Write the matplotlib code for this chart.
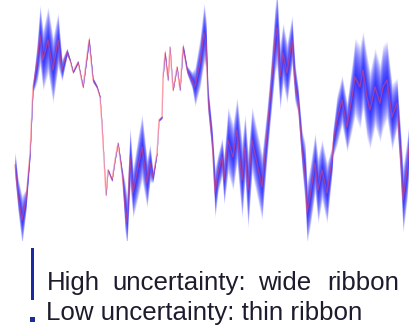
import matplotlib
matplotlib.use("Agg")
import matplotlib.pyplot as plt
from matplotlib.patches import Rectangle
import numpy as np

# time positions
t = [15, 18, 22, 26, 30, 33, 37, 40, 43, 48, 53, 58, 62, 67, 70, 73, 78, 83, 89, 93, 97, 100,
     102, 104, 106, 108, 112, 115, 118, 122, 125, 127, 130, 133, 138, 142, 147, 150, 153, 157,
     159, 162, 163, 165, 168, 170, 173, 177, 180, 183, 187, 192, 195, 200, 204, 206, 208, 212,
     215, 218, 222, 224, 228, 233, 237, 242, 245, 248, 252, 257, 262, 267, 270, 275, 277, 280,
     283, 287, 292, 295, 298, 302, 305, 307, 310, 315, 318, 322, 327, 332, 333, 337, 342, 347,
     352, 355, 360, 363, 367, 370, 375, 380, 383, 387, 392, 397, 400, 403, 407, 409]
# signal level (pixel depth from top of plot area)
level_px = [165, 195, 220, 200, 153, 87, 63, 35, 60, 40, 70, 40, 70, 52, 60, 72, 62, 87, 40, 80, 87, 97,
            125, 160, 195, 170, 180, 160, 143, 173, 207, 222, 157, 193, 167, 147, 183, 163, 177, 153,
            120, 117, 77, 53, 80, 47, 90, 67, 90, 47, 70, 80, 87, 63, 33, 43, 100, 140,
            193, 173, 157, 180, 140, 157, 130, 180, 147, 190, 140, 163, 187, 133, 100, 40, 28, 77,
            53, 73, 40, 83, 100, 150, 173, 213, 197, 163, 190, 170, 193, 160, 143, 120, 100, 127,
            97, 77, 87, 70, 97, 110, 87, 103, 87, 80, 117, 103, 147, 200, 170, 147]
signal = [240 - v for v in level_px]
# uncertainty (std dev)
sigma = [5, 6, 9, 4, 2, 2, 7, 11, 11, 12, 12, 10, 4, 1.5, 0.6, 0.6, 0.6, 0.6, 1.5, 1, 0.6, 0.6,
         0.6, 0.5, 0.6, 0.6, 0.6, 0.6, 0.5, 2, 9, 9, 11, 9, 11, 12, 9, 7, 2, 0.6,
         0.5, 0.6, 0.6, 1.5, 0.6, 0.6, 0.6, 0.6, 0.6, 1.5, 1.5, 3, 7, 9, 11, 9, 5, 5,
         9, 7, 7, 9, 12, 12, 12, 14, 12, 14, 12, 12, 12, 9, 9, 12, 14, 12,
         11, 11, 9, 7, 5, 7, 11, 11, 11, 11, 12, 11, 11, 5, 5, 9, 9, 9,
         12, 14, 15, 14, 15, 14, 14, 14, 15, 14, 12, 9, 9, 12, 11, 9]

legend_lines = ["High uncertainty: wide ribbon", "Low uncertainty: thin ribbon"]

W, H = 409, 327
fig = plt.figure(figsize=(W / 100, H / 100), dpi=100)
ax = fig.add_axes([0, 87 / H, 1, 240 / H])
ax.set_xlim(0, 409)
ax.set_ylim(0, 240)
ax.axis("off")

x = np.array(t, float)
y = np.array(signal, float)
s = np.array(sigma, float)

n = 26
for k in range(1, n + 1):
    f = 2.8 * k / n
    ax.fill_between(x, y - s * f, y + s * f, color=(0.05, 0.05, 1.0), alpha=0.062, lw=0)
ax.plot(x, y, color="#ff4a5c", lw=1.0, alpha=0.5)

# legend glyphs
fig.patches.append(Rectangle((31 / W, 1 - 300 / H), 3 / W, 52 / H, transform=fig.transFigure,
                             color="#1a2aa0", lw=0))
fig.patches.append(Rectangle((30 / W, 1 - 322 / H), 5 / W, 5 / H, transform=fig.transFigure,
                             color="#1a2aa0", lw=0))

font = dict(family=["Liberation Sans", "DejaVu Sans"], fontsize=18.6, color="#1c1c2c", va="baseline")
words1 = legend_lines[0].split(" ")
pos1 = [47, 112, 258, 327]
for w, px in zip(words1, pos1):
    fig.text(px / W, 1 - 290 / H, w, **font)
fig.text(46 / W, 1 - 320 / H, legend_lines[1], **font)

fig.savefig("out.png", dpi=100)
